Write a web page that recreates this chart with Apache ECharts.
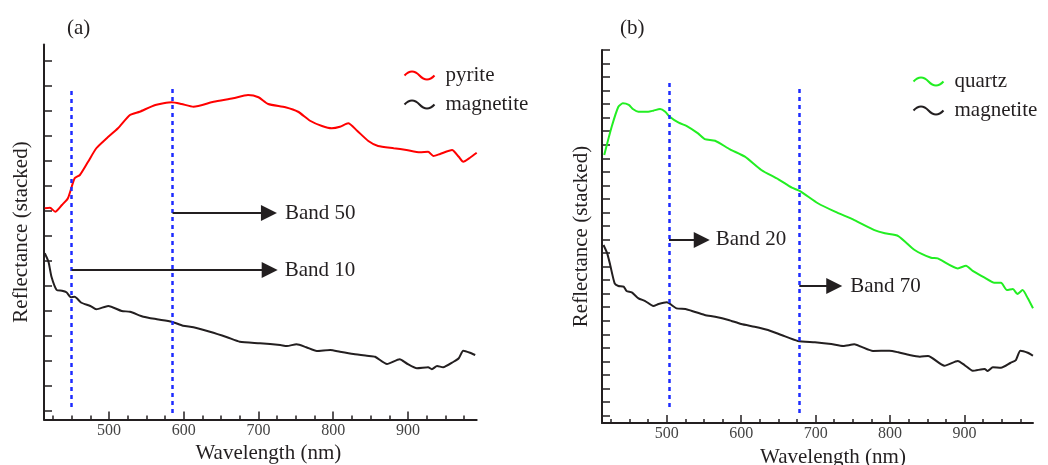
<!DOCTYPE html>
<html><head><meta charset="utf-8">
<script src="https://cdn.jsdelivr.net/npm/echarts@6/dist/echarts.min.js"></script>
<style>html,body{margin:0;padding:0;background:#fff}#c{width:1048px;height:465px}</style>
</head><body><div id="c"></div>
<script>
// ---- data ----
const xMin = 413, xMax = 992;
const majorTicks = [500, 600, 700, 800, 900];
const minorTicks = [425, 450, 475, 525, 550, 575, 625, 650, 675, 725, 750, 775, 825, 850, 875, 925, 950, 975];
const leftYTicks = [0.35, 1.35, 2.35, 3.35, 4.35, 5.35, 6.35, 7.35, 8.35, 9.35, 10.35, 11.35, 12.35, 13.35, 14.35];
const rightYTicks = [0.55, 1.55, 2.55, 3.55, 4.55, 5.55, 6.55, 7.55, 8.55, 9.55, 10.55, 11.55, 12.55, 13.55,
  14.55, 15.55, 16.55, 17.55, 18.55, 19.55, 20.55, 21.55, 22.55, 23.55, 24.55, 25.55, 26.55, 27.55];

const pyrite = [[414,8.45],[421,8.47],[428,8.31],[437,8.58],[445,8.85],[454,9.65],[461,9.78],[472,10.31],[483,10.85],[497,11.25],[512,11.65],[528,12.18],[541,12.31],[562,12.58],[584,12.69],[597,12.62],[613,12.51],[640,12.71],[666,12.85],[686,12.98],[700,12.89],[713,12.62],[736,12.49],[753,12.31],[769,11.95],[785,11.74],[798,11.65],[809,11.71],[820,11.85],[832,11.55],[847,11.14],[860,10.94],[881,10.85],[898,10.78],[916,10.69],[927,10.71],[934,10.54],[943,10.62],[959,10.78],[968,10.51],[974,10.31],[983,10.47],[992,10.67]];
const magnetiteA = [[414,6.65],[419,6.31],[423,5.71],[430,5.18],[437,5.15],[443,5.09],[449,4.89],[454,4.91],[463,4.67],[475,4.54],[483,4.41],[499,4.54],[517,4.34],[528,4.31],[546,4.11],[564,4.01],[584,3.91],[599,3.75],[613,3.69],[635,3.51],[658,3.29],[675,3.11],[702,3.05],[729,2.98],[738,2.94],[751,3.01],[764,2.89],[778,2.74],[796,2.78],[809,2.71],[827,2.62],[845,2.55],[856,2.51],[872,2.22],[889,2.41],[898,2.25],[912,2.05],[927,2.09],[932,2.01],[939,2.14],[947,2.09],[961,2.31],[968,2.45],[974,2.75],[983,2.67],[990,2.58]];
const quartz = [[416,19.79],[426,21.88],[435,23.36],[441,23.61],[449,23.49],[455,23.17],[462,22.99],[475,22.99],[482,23.07],[491,23.19],[498,22.99],[504,22.62],[516,22.18],[527,21.93],[542,21.39],[551,20.97],[565,20.85],[585,20.21],[605,19.67],[627,18.69],[650,18.0],[668,17.38],[679,17.13],[703,16.23],[726,15.61],[752,14.99],[779,14.25],[793,14.01],[811,13.81],[833,12.78],[855,12.21],[864,12.16],[891,11.42],[902,11.62],[911,11.23],[927,10.73],[940,10.36],[949,10.36],[957,9.82],[965,9.9],[971,9.53],[978,9.82],[985,9.21],[992,8.47]];
const magnetiteB = [[415,13.15],[420,12.53],[424,11.67],[430,10.32],[435,10.12],[442,10.07],[446,9.75],[453,9.65],[462,9.21],[471,9.01],[482,8.64],[489,8.79],[500,8.91],[513,8.47],[525,8.42],[533,8.29],[551,7.98],[565,7.85],[583,7.61],[600,7.31],[618,7.11],[636,6.87],[654,6.5],[676,6.06],[699,5.96],[721,5.83],[737,5.69],[752,5.81],[761,5.64],[777,5.32],[799,5.34],[811,5.22],[826,5.02],[840,4.9],[851,4.95],[873,4.23],[891,4.58],[900,4.28],[911,3.86],[927,3.99],[931,3.84],[938,4.11],[949,4.08],[962,4.45],[969,4.65],[975,5.34],[985,5.19],[992,4.97]];

// band guide lines: [wavelength, yFrom, yTo]
const bandLinesA = [[450, 0.5, 13.22], [585, 0.26, 13.34]];
const bandLinesB = [[503, 1.18, 25.41], [678, 0.74, 24.89]];
// arrows: [label, fromWavelength, toWavelength, y]
const arrowsA = [['Band 50', 585, 714, 8.26], ['Band 10', 450, 715, 5.98]];
const arrowsB = [['Band 20', 503, 547, 13.52], ['Band 70', 678, 725, 10.12]];

// ---- styling ----
const FONT = '"Liberation Serif", "Times New Roman", serif';
const INK = '#231f20';
const BLUE = '#1e2cff';
const wave = 'path://M0,10 C5,0 10,0 15,10 C20,20 25,20 30,10';

function dotted(lines) {
  return lines.map(l => [
    {coord: [l[0], l[1]], symbol: 'none'},
    {coord: [l[0], l[2]], symbol: 'none'}
  ]);
}
function arrows(list, dist) {
  return list.map((a, i) => [
    {coord: [a[1], a[3]], symbol: 'none'},
    {coord: [a[2], a[3]], symbol: 'triangle', symbolSize: 16,
     label: {show: true, position: 'end', formatter: a[0], distance: dist[i],
       color: INK, fontSize: 21, fontFamily: FONT}}
  ]);
}

function mainX(grid, padLeft, gap) {
  return {type: 'value', gridIndex: grid, min: xMin, max: xMax, position: 'bottom',
    axisLine: {show: true, lineStyle: {color: INK, width: 2}},
    axisTick: {show: true, inside: true, length: 8, customValues: majorTicks, lineStyle: {color: INK, width: 1.5}},
    axisLabel: {show: true, customValues: majorTicks, margin: 3, fontSize: 16, fontFamily: FONT, color: '#444'},
    splitLine: {show: false},
    name: 'Wavelength (nm)', nameLocation: 'middle', nameGap: gap,
    nameTextStyle: {fontSize: 21, fontFamily: FONT, color: INK, padding: [0, 0, 0, padLeft]}};
}
function minorX(grid) {
  return {type: 'value', gridIndex: grid, min: xMin, max: xMax, position: 'bottom',
    axisLine: {show: false},
    axisTick: {show: true, inside: true, length: 4, customValues: minorTicks, lineStyle: {color: INK, width: 1.5}},
    axisLabel: {show: false}, splitLine: {show: false}};
}
function yAx(grid, max, ticks, gap) {
  return {type: 'value', gridIndex: grid, min: 0, max: max,
    axisLine: {show: true, lineStyle: {color: INK, width: 2}},
    axisTick: {show: true, inside: true, length: 8, customValues: ticks, lineStyle: {color: INK, width: 1.5}},
    axisLabel: {show: false}, splitLine: {show: false},
    name: 'Reflectance (stacked)', nameLocation: 'middle', nameGap: gap, nameRotate: 90,
    nameTextStyle: {fontSize: 21, fontFamily: FONT, color: INK}};
}
function legendOf(names, colors, left, top) {
  return {orient: 'vertical', left: left, top: top, icon: wave, itemWidth: 30, itemHeight: 8,
    itemGap: 8, symbolKeepAspect: false, selectedMode: false,
    itemStyle: {color: 'none', borderWidth: 2},
    textStyle: {fontSize: 21, fontFamily: FONT, color: INK, padding: [0, 0, 0, 6]},
    data: names.map((n, i) => ({name: n, itemStyle: {color: 'none', borderColor: colors[i], borderWidth: 2}}))};
}
function line(name, data, color, xi, yi, extra) {
  return Object.assign({type: 'line', name: name, xAxisIndex: xi, yAxisIndex: yi, data: data,
    symbol: 'none', showSymbol: false, smooth: 0.2, silent: true,
    lineStyle: {color: color, width: 2}, itemStyle: {color: color}}, extra || {});
}

const chart = echarts.init(document.getElementById('c'), null, {renderer: 'canvas'});
chart.setOption({
  animation: false,
  backgroundColor: '#fff',
  title: [
    {text: '(a)', left: 62, top: 13, textStyle: {fontSize: 21, fontWeight: 'normal', fontFamily: FONT, color: INK}},
    {text: '(b)', left: 615, top: 13, textStyle: {fontSize: 21, fontWeight: 'normal', fontFamily: FONT, color: INK}}
  ],
  legend: [
    legendOf(['pyrite', 'magnetite'], ['#ff0000', INK], 397, 60),
    legendOf(['quartz', 'magnetite'], ['#22ee22', INK], 906, 66)
  ],
  grid: [
    {left: 44, right: 571.3, top: 44.5, bottom: 45.5, containLabel: false, outerBoundsMode: 'none'},
    {left: 602, right: 15, top: 50, bottom: 42, containLabel: false, outerBoundsMode: 'none'}
  ],
  xAxis: [mainX(0, 16, 22), minorX(0), mainX(1, 31, 22), minorX(1)],
  yAxis: [yAx(0, 15, leftYTicks, 12), yAx(1, 27.55, rightYTicks, 10)],
  series: [
    line('pyrite', pyrite, '#ff0000', 0, 0),
    line('magnetite', magnetiteA, INK, 0, 0, {
      markLine: {silent: true, animation: false, symbol: 'none',
        lineStyle: {color: BLUE, width: 2.5, type: [4, 4]}, label: {show: false},
        data: dotted(bandLinesA)}
    }),
    {type: 'line', name: 'arrowsA', xAxisIndex: 0, yAxisIndex: 0, data: [], silent: true,
      markLine: {silent: true, animation: false, lineStyle: {color: INK, width: 1.8, type: 'solid'},
        itemStyle: {color: INK}, data: arrows(arrowsA, [16, 15])}},
    line('quartz', quartz, '#22ee22', 2, 1),
    line('magnetite', magnetiteB, INK, 2, 1, {
      markLine: {silent: true, animation: false, symbol: 'none',
        lineStyle: {color: BLUE, width: 2.5, type: [4, 4]}, label: {show: false},
        data: dotted(bandLinesB)}
    }),
    {type: 'line', name: 'arrowsB', xAxisIndex: 2, yAxisIndex: 1, data: [], silent: true,
      markLine: {silent: true, animation: false, lineStyle: {color: INK, width: 1.8, type: 'solid'},
        itemStyle: {color: INK}, data: arrows(arrowsB, [14, 16])}}
  ]
});
</script></body></html>
